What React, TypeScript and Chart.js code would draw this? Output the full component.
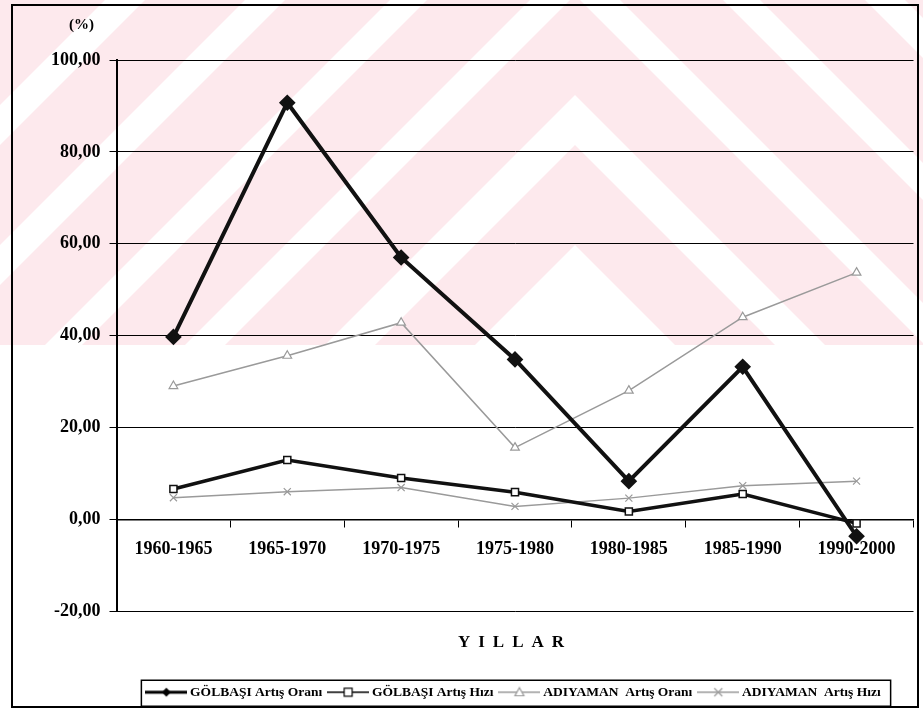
import React, { useEffect, useRef } from 'react';
import { Chart, registerables } from 'chart.js';

Chart.register(...registerables);

// ---- data ----
const categories = ['1960-1965', '1965-1970', '1970-1975', '1975-1980', '1980-1985', '1985-1990', '1990-2000'];
const golbasiOrani = [39.7, 90.7, 57.0, 34.8, 8.3, 33.2, -3.7];
const golbasiHizi = [6.6, 12.9, 9.0, 5.9, 1.7, 5.5, -0.9];
const adiyamanOrani = [29.0, 35.6, 42.8, 15.6, 28.0, 44.0, 53.7];
const adiyamanHizi = [4.7, 6.0, 6.9, 2.8, 4.6, 7.3, 8.3];
const yTickValues = [-20, 0, 20, 40, 60, 80, 100];
const seriesLabels = ['GÖLBAŞI Artış Oranı', 'GÖLBAŞI Artış Hızı', 'ADIYAMAN  Artış Oranı', 'ADIYAMAN  Artış Hızı'];
const xAxisTitle = 'YILLAR';
const yAxisUnit = '(%)';

// background watermark (scan artefact): pink band with white chevron stripes
const wmBottom = 345;
const wmAxisX = 575;
const wmWhiteBands: [number, number][] = [[-470, -430], [-330, -290], [-185, -148], [-45, -5], [95, 145], [245, 2000]];

const FONT = '"Liberation Serif", "Times New Roman", serif';
const GRAY = '#9a9a9a';

function makeSample(kind: number): HTMLCanvasElement {
  const c = document.createElement('canvas');
  c.width = 42;
  c.height = 12;
  const g = c.getContext('2d') as CanvasRenderingContext2D;
  const cy = 6;
  const cx = 21;
  g.beginPath();
  g.moveTo(0, cy);
  g.lineTo(42, cy);
  if (kind === 0) { g.strokeStyle = '#000'; g.lineWidth = 3; }
  else if (kind === 1) { g.strokeStyle = '#000'; g.lineWidth = 1.5; }
  else { g.strokeStyle = GRAY; g.lineWidth = 1.5; }
  g.stroke();
  g.lineWidth = 1.2;
  if (kind === 0) {
    g.fillStyle = '#000';
    g.beginPath();
    g.moveTo(cx, cy - 4.5); g.lineTo(cx + 4.5, cy); g.lineTo(cx, cy + 4.5); g.lineTo(cx - 4.5, cy); g.closePath();
    g.fill();
  } else if (kind === 1) {
    g.fillStyle = '#fff'; g.strokeStyle = '#000';
    g.fillRect(cx - 4, cy - 4, 8, 8); g.strokeRect(cx - 4, cy - 4, 8, 8);
  } else if (kind === 2) {
    g.fillStyle = '#fff'; g.strokeStyle = GRAY;
    g.beginPath(); g.moveTo(cx, cy - 4.5); g.lineTo(cx + 4.5, cy + 3.5); g.lineTo(cx - 4.5, cy + 3.5); g.closePath();
    g.fill(); g.stroke();
  } else {
    g.strokeStyle = GRAY;
    g.beginPath();
    g.moveTo(cx - 4, cy - 4); g.lineTo(cx + 4, cy + 4);
    g.moveTo(cx + 4, cy - 4); g.lineTo(cx - 4, cy + 4);
    g.stroke();
  }
  return c;
}

const extrasPlugin = {
  id: 'extras',
  beforeDraw(chart: any) {
    const ctx = chart.ctx as CanvasRenderingContext2D;
    ctx.save();
    ctx.fillStyle = '#fff';
    ctx.fillRect(0, 0, chart.width, chart.height);
    // watermark
    ctx.beginPath();
    ctx.rect(0, 0, chart.width, wmBottom);
    ctx.clip();
    ctx.fillStyle = '#fde9ed';
    ctx.fillRect(0, 0, chart.width, wmBottom);
    ctx.fillStyle = '#fff';
    const L = -1500;
    const R = 2500;
    wmWhiteBands.forEach(([a, b]) => {
      ctx.beginPath();
      ctx.moveTo(L, a + (wmAxisX - L));
      ctx.lineTo(wmAxisX, a);
      ctx.lineTo(R, a + (R - wmAxisX));
      ctx.lineTo(R, b + (R - wmAxisX));
      ctx.lineTo(wmAxisX, b);
      ctx.lineTo(L, b + (wmAxisX - L));
      ctx.closePath();
      ctx.fill();
    });
    ctx.restore();
    const tb = chart.titleBlock;
    if (tb && !tb.__ls) {
      const orig = tb.draw.bind(tb);
      tb.draw = (...a: any[]) => {
        ctx.save();
        (ctx as any).letterSpacing = '8px';
        orig(...a);
        ctx.restore();
      };
      tb.__ls = true;
    }
  },
  afterDraw(chart: any) {
    const ctx = chart.ctx as CanvasRenderingContext2D;
    const area = chart.chartArea;
    ctx.save();
    ctx.fillStyle = '#000';
    ctx.font = `bold 15px ${FONT}`;
    ctx.textAlign = 'center';
    ctx.textBaseline = 'middle';
    ctx.fillText(yAxisUnit, area.left - 35, area.top - 35);
    const lg = chart.legend;
    if (lg && lg.legendHitBoxes && lg.legendHitBoxes.length) {
      const hb = lg.legendHitBoxes;
      const first = hb[0];
      const last = hb[hb.length - 1];
      const cy = first.top + first.height / 2;
      ctx.strokeStyle = '#000';
      ctx.lineWidth = 1.5;
      ctx.strokeRect(first.left - 8, cy - 12, last.left + last.width + 10 - (first.left - 8), 26);
    }
    ctx.strokeStyle = '#000';
    ctx.lineWidth = 2;
    ctx.strokeRect(12, 5, 906, 702);
    ctx.restore();
  },
};

export default function App() {
  const ref = useRef<HTMLCanvasElement | null>(null);
  useEffect(() => {
    if (!ref.current) return;
    const samples = [0, 1, 2, 3].map(makeSample);
    const tickFont = { family: FONT, size: 18, weight: 'bold' as const };
    const chart = new Chart(ref.current, {
      type: 'line',
      data: {
        labels: categories,
        datasets: [
          {
            label: seriesLabels[0], data: golbasiOrani, borderColor: '#111', backgroundColor: '#111',
            borderWidth: 4, pointStyle: 'rectRot', pointRadius: 5.5, pointBackgroundColor: '#111', pointBorderColor: '#111', tension: 0,
          },
          {
            label: seriesLabels[1], data: golbasiHizi, borderColor: '#111', backgroundColor: '#fff',
            borderWidth: 3.5, pointStyle: 'rect', pointRadius: 5, pointBackgroundColor: '#fff', pointBorderColor: '#111', pointBorderWidth: 1.5, tension: 0,
          },
          {
            label: seriesLabels[2], data: adiyamanOrani, borderColor: GRAY, backgroundColor: '#fff',
            borderWidth: 1.5, pointStyle: 'triangle', pointRadius: 5, pointBackgroundColor: '#fff', pointBorderColor: GRAY, pointBorderWidth: 1.2, tension: 0,
          },
          {
            label: seriesLabels[3], data: adiyamanHizi, borderColor: GRAY, backgroundColor: GRAY,
            borderWidth: 1.5, pointStyle: 'crossRot', pointRadius: 5, pointBorderColor: GRAY, pointBorderWidth: 1.2, tension: 0,
          },
        ],
      },
      options: {
        responsive: false,
        animation: false,
        layout: { padding: { left: 42, right: 7, top: 60, bottom: 9 } },
        scales: {
          x: {
            type: 'category',
            position: { y: 0 } as any,
            offset: true,
            grid: { display: true, drawOnChartArea: false, drawTicks: true, tickLength: 7, color: '#000', lineWidth: 1, offset: true },
            border: { display: true, color: '#000', width: 1.5 },
            ticks: { color: '#000', font: tickFont, padding: 12, maxRotation: 0, autoSkip: false },
          },
          y: {
            type: 'linear',
            min: yTickValues[0],
            max: yTickValues[yTickValues.length - 1],
            afterBuildTicks: (s: any) => { s.ticks = yTickValues.map((v) => ({ value: v })); },
            grid: { color: '#000', lineWidth: 1, tickLength: 7, drawTicks: true },
            border: { display: true, color: '#000', width: 2 },
            ticks: {
              color: '#000', font: tickFont, padding: 9,
              callback: (v: any) => Number(v).toFixed(2).replace('.', ','),
            },
          },
        },
        plugins: {
          legend: {
            display: true,
            position: 'bottom',
            fullSize: false,
            labels: {
              usePointStyle: true,
              pointStyleWidth: 34,
              padding: 9,
              color: '#000',
              font: { family: FONT, size: 13.5, weight: 'bold' },
              generateLabels: (ch: any) => {
                const items = (Chart.defaults.plugins.legend.labels as any).generateLabels(ch);
                return items.map((it: any, i: number) => ({ ...it, pointStyle: samples[i], fontColor: '#000' }));
              },
            },
          },
          title: {
            display: true,
            text: xAxisTitle,
            position: 'bottom',
            weight: 500,
            fullSize: false,
            color: '#000',
            font: { family: FONT, size: 17, weight: 'bold' },
            padding: { top: 21, bottom: 24 },
          },
          tooltip: { enabled: false },
        },
      },
      plugins: [extrasPlugin],
    });
    return () => chart.destroy();
  }, []);
  return (
    <div style={{ position: 'absolute', left: 0, top: 0, width: 923, height: 718, background: '#fff' }}>
      <canvas ref={ref} width={923} height={718} style={{ display: 'block' }} />
    </div>
  );
}
